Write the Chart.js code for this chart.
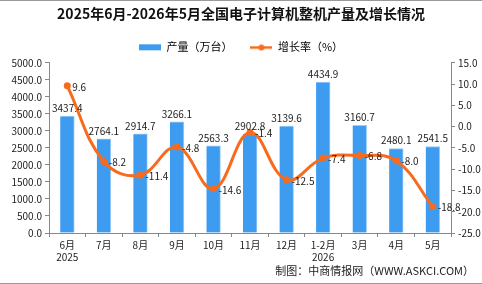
<!DOCTYPE html>
<html>
<head>
<meta charset="utf-8">
<script src="https://cdn.jsdelivr.net/npm/chart.js@4"></script>
<style>
  html, body { margin: 0; padding: 0; background: #fff; }
  #wrap { position: relative; width: 482px; height: 284px; box-sizing: border-box; border-top: 1px solid #999; border-bottom: 1px solid #999; }
</style>
</head>
<body>
<div id="wrap"><canvas id="chart" width="482" height="282"></canvas></div>
<script>
const labels = [["6月", "2025"], "7月", "8月", "9月", "10月", "11月", "12月", ["1-2月", "2026"], "3月", "4月", "5月"];
const output = [3437.4, 2764.1, 2914.7, 3266.1, 2563.3, 2902.8, 3139.6, 4434.9, 3160.7, 2480.1, 2541.5];
const growth = [9.6, -8.2, -11.4, -4.8, -14.6, -1.4, -12.5, -7.4, -6.8, -8.0, -18.8];

const FONT = "'Noto Sans CJK SC', 'DejaVu Sans', sans-serif";
const BLUE = "#3D9BF0";
const ORANGE = "#F86B1D";

// legend markers: blue block and orange line with a dot
function marker(kind) {
  const c = document.createElement("canvas");
  c.width = 22; c.height = 8;
  const g = c.getContext("2d");
  if (kind === "bar") {
    g.fillStyle = BLUE;
    g.fillRect(0, 1, 22, 6);
  } else {
    g.fillStyle = ORANGE;
    g.fillRect(0, 3, 22, 2.5);
    g.beginPath();
    g.arc(11, 4.2, 3, 0, Math.PI * 2);
    g.fill();
  }
  return c;
}

const valueLabels = {
  id: "valueLabels",
  afterDatasetsDraw(chart) {
    const ctx = chart.ctx;
    ctx.save();
    ctx.font = "10px " + FONT;
    ctx.fillStyle = "#222";
    chart.getDatasetMeta(1).data.forEach((bar, i) => {
      ctx.textAlign = "center";
      ctx.textBaseline = "bottom";
      ctx.fillText(output[i].toFixed(1), bar.x, bar.y - 3);
    });
    chart.getDatasetMeta(0).data.forEach((pt, i) => {
      ctx.textAlign = "left";
      ctx.textBaseline = "middle";
      ctx.fillText(growth[i].toFixed(1), pt.x + 5, pt.y + 1);
    });
    ctx.textAlign = "right";
    ctx.textBaseline = "middle";
    ctx.font = "11px " + FONT;
    ctx.fillText("制图：中商情报网（WWW.ASKCI.COM）", 474, 270);
    ctx.restore();
  },
};

new Chart(document.getElementById("chart"), {
  data: {
    labels: labels,
    datasets: [
      {
        type: "line",
        label: "增长率（%）",
        data: growth,
        yAxisID: "y1",
        borderColor: ORANGE,
        backgroundColor: ORANGE,
        borderWidth: 3,
        pointRadius: 3.5,
        pointBackgroundColor: ORANGE,
        pointBorderWidth: 0,
        tension: 0.4,
        order: 0,
      },
      {
        type: "bar",
        label: "产量（万台）",
        data: output,
        yAxisID: "y",
        backgroundColor: BLUE,
        borderColor: "#9CCDF8",
        borderWidth: { right: 1, top: 1 },
        barThickness: 14,
        order: 1,
      },
    ],
  },
  options: {
    animation: false,
    responsive: false,
    layout: { padding: { top: 0, right: 0, bottom: 20, left: 0 } },
    plugins: {
      title: {
        display: true,
        text: "2025年6月-2026年5月全国电子计算机整机产量及增长情况",
        color: "#111",
        font: { family: FONT, size: 14, weight: "bold" },
        padding: { top: 4, bottom: 2 },
      },
      legend: {
        display: true,
        labels: {
          color: "#222",
          font: { family: FONT, size: 11 },
          usePointStyle: true,
          pointStyleWidth: 22,
          boxHeight: 8,
          padding: 18,
          generateLabels(chart) {
            return [
              { text: "产量（万台）", pointStyle: marker("bar"), fillStyle: BLUE, strokeStyle: BLUE, lineWidth: 0, datasetIndex: 1 },
              { text: "增长率（%）", pointStyle: marker("line"), fillStyle: ORANGE, strokeStyle: ORANGE, lineWidth: 0, datasetIndex: 0 },
            ];
          },
        },
      },
      tooltip: { enabled: false },
    },
    scales: {
      x: {
        offset: true,
        grid: { offset: true, drawOnChartArea: false, tickLength: 4, color: "#888" },
        border: { color: "#888" },
        ticks: { color: "#222", font: { family: FONT, size: 10 }, maxRotation: 0, padding: 2 },
        afterFit(scale) { scale.height = 30; },
      },
      y: {
        position: "left",
        min: 0,
        max: 5000,
        grid: { drawOnChartArea: false, tickLength: 4, color: "#888" },
        border: { color: "#888" },
        ticks: { stepSize: 500, color: "#222", font: { family: FONT, size: 10 }, callback: (v) => v.toFixed(1), padding: 3 },
        afterFit(scale) { scale.width = 49; },
      },
      y1: {
        position: "right",
        min: -25,
        max: 15,
        grid: { drawOnChartArea: false, tickLength: 4, color: "#888" },
        border: { color: "#888" },
        ticks: { stepSize: 5, color: "#222", font: { family: FONT, size: 10 }, callback: (v) => v.toFixed(1), padding: 3 },
        afterFit(scale) { scale.width = 31; },
      },
    },
  },
  plugins: [valueLabels],
});
</script>
</body>
</html>
